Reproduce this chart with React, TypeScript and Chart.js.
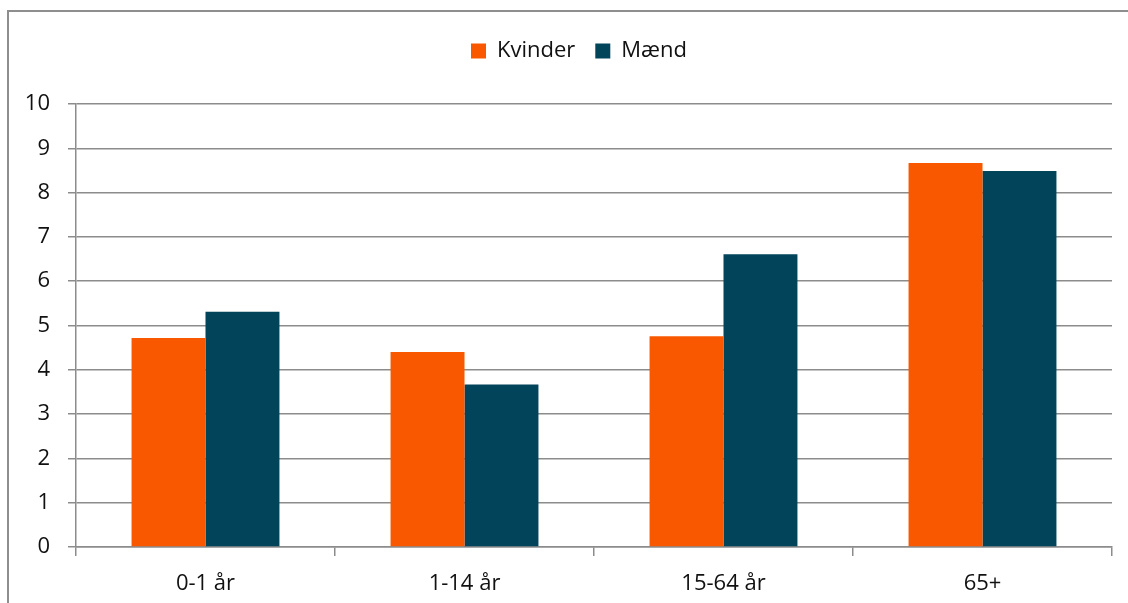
import React, { useEffect, useRef } from "react";
import { Chart, registerables } from "chart.js";

Chart.register(...registerables);

const categories = ["0-1 år", "1-14 år", "15-64 år", "65+"];
const kvinder = [4.72, 4.4, 4.76, 8.67];
const maend = [5.31, 3.67, 6.61, 8.49];
const seriesNames = ["Kvinder", "Mænd"];
const yMin = 0;
const yMax = 10;
const yStep = 1;

const FONT = "'Open Sans', 'DejaVu Sans', sans-serif";
const GRID = "#8c8c8c";

export default function App() {
  const ref = useRef<HTMLCanvasElement | null>(null);

  useEffect(() => {
    if (!ref.current) return;
    const chart = new Chart(ref.current, {
      type: "bar",
      data: {
        labels: categories,
        datasets: [
          {
            label: seriesNames[0],
            data: kvinder,
            backgroundColor: "#F95800",
            borderWidth: 0,
            categoryPercentage: 0.571,
            barPercentage: 1.0,
          },
          {
            label: seriesNames[1],
            data: maend,
            backgroundColor: "#02445A",
            borderWidth: 0,
            categoryPercentage: 0.571,
            barPercentage: 1.0,
          },
        ],
      },
      options: {
        responsive: false,
        animation: false,
        events: [],
        layout: { padding: { left: 10, right: -20, top: 20, bottom: 0 } },
        plugins: {
          tooltip: { enabled: false },
          legend: {
            display: true,
            position: "top",
            align: "center",
            labels: {
              boxWidth: 15,
              boxHeight: 15,
              padding: 20,
              color: "#111",
              font: { family: FONT, size: 22 },
            },
          },
          title: {
            display: true,
            text: "",
            weight: 500,
            font: { size: 10, lineHeight: 1 },
            padding: { top: 0, bottom: 22 },
          } as any,
          subtitle: {
            display: true,
            text: "",
            position: "right",
            fullSize: false,
            font: { size: 10, lineHeight: 1 },
            padding: { top: 0, bottom: 26 },
          } as any,
        },
        scales: {
          x: {
            offset: true,
            grid: {
              offset: true,
              drawOnChartArea: false,
              drawTicks: true,
              tickLength: 9,
              color: GRID,
              lineWidth: 1.5,
            },
            border: { display: true, color: GRID, width: 1.5 },
            ticks: {
              color: "#111",
              padding: 15,
              font: { family: FONT, size: 22 },
            },
            afterFit: (scale: any) => {
              scale.height = 56;
            },
          },
          y: {
            min: yMin,
            max: yMax,
            ticks: {
              stepSize: yStep,
              color: "#111",
              padding: 18,
              font: { family: FONT, size: 22 },
            },
            grid: {
              color: GRID,
              lineWidth: 1.5,
              tickLength: 8,
              drawTicks: true,
            },
            border: { display: true, color: GRID, width: 1.5 },
            afterFit: (scale: any) => {
              scale.width = 66;
            },
          },
        },
      },
    });
    return () => chart.destroy();
  }, []);

  return (
    <div
      style={{
        position: "fixed",
        left: 0,
        top: 0,
        width: 1128,
        height: 603,
        background: "#fff",
        overflow: "hidden",
      }}
    >
      <div
        style={{
          position: "absolute",
          left: 7,
          top: 10,
          width: 1200,
          height: 700,
          borderLeft: "2px solid #8e8e8e",
          borderTop: "2px solid #8e8e8e",
          boxSizing: "border-box",
        }}
      />
      <canvas
        ref={ref}
        width={1128}
        height={603}
        style={{ position: "absolute", left: 0, top: 0, width: 1128, height: 603 }}
      />
    </div>
  );
}
